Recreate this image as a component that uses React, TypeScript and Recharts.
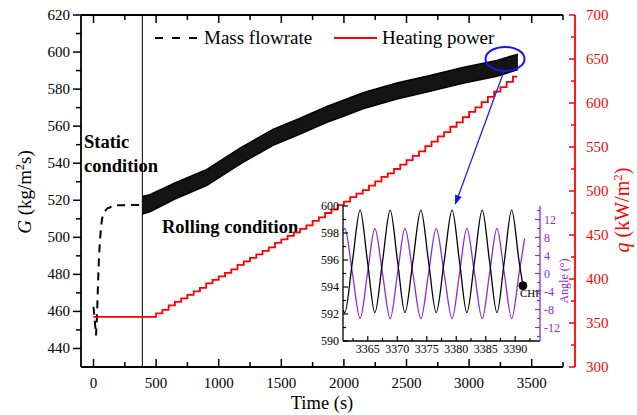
import React from 'react'
import {
  ComposedChart,
  Line,
  Area,
  XAxis,
  YAxis,
  ReferenceLine,
  ReferenceDot,
} from 'recharts'

const FONT = '"Liberation Serif", "Times New Roman", serif'
const RED = '#ff0000'
const PURPLE = '#8b2be2'
const BLUE = '#1414ff'

// static start-up part of the mass flowrate (s, kg/m2s)
const staticTime = [0, 10, 20, 28, 36, 44, 52, 60, 68, 85, 108, 170, 390]
const staticG = [462.5, 455, 447, 458, 475, 490, 499, 505, 510, 513.5, 515.5, 517.3, 517.5]

// rolling part: envelope of the oscillating mass flowrate
const rollTime = [390, 450, 650, 906, 1170, 1434, 1650, 1864, 1970, 2152, 2423, 2687, 2950, 3221, 3390]
const rollLow = [512.5, 513.8, 520.7, 528.1, 539.5, 549.7, 555.7, 562.1, 564.7, 569.4, 574.7, 578.8, 583.1, 586.9, 590.5]
const rollHigh = [522, 523, 529.3, 536.7, 548.1, 558.3, 564.3, 570.7, 573.3, 578, 583.3, 587.4, 591.7, 595.5, 598.8]

// heating power steps (s, kW/m2)
const heatTime = [
  0, 500, 550, 600, 650, 700, 750, 800, 850, 900, 950, 1000, 1050, 1100, 1150, 1200,
  1250, 1300, 1350, 1400, 1450, 1500, 1550, 1600, 1650, 1700, 1750, 1800, 1850, 1900,
  1950, 2000, 2050, 2100, 2150, 2200, 2250, 2300, 2350, 2400, 2450, 2500, 2550, 2600,
  2650, 2700, 2750, 2800, 2850, 2900, 2950, 3000, 3050, 3100, 3150, 3200, 3250, 3300,
  3350, 3385,
]
const heatQ = [
  357, 361, 365, 370, 374, 378, 382, 386, 390, 395, 399, 403, 407, 411, 416, 420,
  424, 428, 432, 436, 441, 445, 449, 453, 457, 461, 466, 470, 475, 479,
  484, 488, 493, 497, 501, 506, 511, 516, 520, 525, 530, 535, 540, 545,
  551, 556, 562, 567, 573, 578, 584, 590, 595, 601, 607, 613, 618, 624,
  630, 630,
]

const timeTicks = [0, 250, 500, 750, 1000, 1250, 1500, 1750, 2000, 2250, 2500, 2750, 3000, 3250, 3500, 3750]
const gTicks = [440, 450, 460, 470, 480, 490, 500, 510, 520, 530, 540, 550, 560, 570, 580, 590, 600, 610, 620]
const qTicks = [300, 325, 350, 375, 400, 425, 450, 475, 500, 525, 550, 575, 600, 625, 650, 675, 700]

// inset: last seconds before CHF
const insetTime = [
  3360.8, 3361.1, 3362.4, 3363.7, 3364.95, 3366.2, 3367.5, 3368.8, 3370.05, 3371.3,
  3372.65, 3374.0, 3375.3, 3376.6, 3377.95, 3379.3, 3380.55, 3381.8, 3383.1, 3384.4,
  3385.65, 3386.9, 3388.15, 3389.4, 3390.65, 3391.3,
]
const insetG = [
  592.3, 592.1, 595.9, 599.7, 595.9, 592.1, 595.9, 599.7, 595.9, 592.1,
  595.9, 599.7, 595.9, 592.1, 595.9, 599.7, 595.9, 592.1, 595.9, 599.7,
  595.9, 592.1, 595.9, 599.7, 595.9, 594.1,
]
const angleTime = [
  3360.8, 3361.1, 3362.4, 3363.7, 3364.95, 3366.2, 3367.5, 3368.8, 3370.05, 3371.3,
  3372.65, 3374.0, 3375.3, 3376.6, 3377.95, 3379.3, 3380.55, 3381.8, 3383.1, 3384.4,
  3385.65, 3386.9, 3388.15, 3389.4, 3390.65, 3391.6,
]
const angle = [
  9.5, 10, 0, -10, 0, 10, 0, -10, 0, 10,
  0, -10, 0, 10, 0, -10, 0, 10, 0, -10,
  0, 10, 0, -10, 0, 7.8,
]
const insetTimeTicks = [3362.5, 3365, 3367.5, 3370, 3372.5, 3375, 3377.5, 3380, 3382.5, 3385, 3387.5, 3390, 3392.5]
const insetGTicks = [590, 591, 592, 593, 594, 595, 596, 597, 598, 599, 600]
const angleTicks = [-14, -12, -10, -8, -6, -4, -2, 0, 2, 4, 6, 8, 10, 12, 14]

const staticData = staticTime.map((t, i) => ({ t, G: staticG[i] }))
const rollData = rollTime.map((t, i) => ({ t, band: [rollLow[i], rollHigh[i]] }))
const heatData = heatTime.map((t, i) => ({ t, q: heatQ[i] }))
const insetGData = insetTime.map((t, i) => ({ t, G: insetG[i] }))
const angleData = angleTime.map((t, i) => ({ t, a: angle[i] }))

// ---- tick renderers (ticks drawn by hand to get inward/outward + minor ticks)
const BottomTick = ({ x, y, payload }: any) => {
  const v = payload.value
  const major = v % 500 === 0
  return (
    <g>
      <line x1={x} x2={x} y1={y} y2={y - (major ? 8 : 5)} stroke="#000" strokeWidth={1.5} />
      {major && (
        <text x={x} y={y + 21} textAnchor="middle" fontSize={15} fontFamily={FONT} fill="#000">
          {v}
        </text>
      )}
    </g>
  )
}

const TopTick = ({ x, y, payload }: any) => {
  const major = payload.value % 500 === 0
  return <line x1={x} x2={x} y1={y} y2={y + (major ? 8 : 5)} stroke="#000" strokeWidth={1.5} />
}

const LeftTick = ({ x, y, payload }: any) => {
  const v = payload.value
  const major = v % 20 === 0
  return (
    <g>
      <line x1={x - (major ? 8 : 5)} x2={x} y1={y} y2={y} stroke="#000" strokeWidth={1.5} />
      {major && (
        <text x={x - 11} y={y + 5} textAnchor="end" fontSize={15} fontFamily={FONT} fill="#000">
          {v}
        </text>
      )}
    </g>
  )
}

const RedTick = ({ x, y, payload }: any) => {
  const v = payload.value
  const major = v % 50 === 0
  return (
    <g>
      <line x1={x - (major ? 6 : 4)} x2={x} y1={y} y2={y} stroke={RED} strokeWidth={1.5} />
      {major && (
        <text x={x + 11} y={y + 5} textAnchor="start" fontSize={15} fontFamily={FONT} fill={RED}>
          {v}
        </text>
      )}
    </g>
  )
}

const InsetBottomTick = ({ x, y, payload }: any) => {
  const v = payload.value
  const major = v % 5 === 0
  return (
    <g>
      <line x1={x} x2={x} y1={y} y2={y - (major ? 5 : 3)} stroke="#000" strokeWidth={1.2} />
      {major && (
        <text x={x} y={y + 12} textAnchor="middle" fontSize={12} fontFamily={FONT} fill="#000">
          {v}
        </text>
      )}
    </g>
  )
}

const InsetLeftTick = ({ x, y, payload }: any) => {
  const v = payload.value
  const major = v % 2 === 0
  return (
    <g>
      <line x1={x} x2={x + (major ? 5 : 3)} y1={y} y2={y} stroke="#000" strokeWidth={1.2} />
      {major && (
        <text x={x - 4} y={y + 4} textAnchor="end" fontSize={12} fontFamily={FONT} fill="#000">
          {v}
        </text>
      )}
    </g>
  )
}

const AngleTick = ({ x, y, payload }: any) => {
  const v = payload.value
  const major = v % 4 === 0
  return (
    <g>
      <line x1={x - (major ? 5 : 3)} x2={x} y1={y} y2={y} stroke={PURPLE} strokeWidth={1.2} />
      {major && (
        <text x={x + 4} y={y + 4} textAnchor="start" fontSize={12} fontFamily={FONT} fill={PURPLE}>
          {v}
        </text>
      )}
    </g>
  )
}

const Ellipse = ({ cx, cy }: any) => (
  <ellipse cx={cx} cy={cy} rx={19.5} ry={12} fill="none" stroke={BLUE} strokeWidth={2} />
)

const Arrow = ({ x1, y1, x2, y2 }: any) => {
  const ang = Math.atan2(y2 - y1, x2 - x1)
  const len = 10
  const w = 3.5
  const bx = x2 - len * Math.cos(ang)
  const by = y2 - len * Math.sin(ang)
  const px = -Math.sin(ang) * w
  const py = Math.cos(ang) * w
  return (
    <g>
      <line x1={x1} y1={y1} x2={bx} y2={by} stroke={BLUE} strokeWidth={1.2} />
      <polygon points={`${x2},${y2} ${bx + px},${by + py} ${bx - px},${by - py}`} fill={BLUE} />
    </g>
  )
}

export default function App() {
  return (
    <div style={{ position: 'relative', width: 637, height: 415, background: '#fff' }}>
      <style>{'body{margin:0}'}</style>
      <ComposedChart width={637} height={415} margin={{ top: 0, right: 0, bottom: 0, left: 0 }}>
        <XAxis
          dataKey="t"
          type="number"
          domain={[-100, 3750]}
          ticks={timeTicks}
          interval={0}
          height={48}
          tickSize={0}
          tickMargin={0}
          tickLine={false}
          tick={BottomTick}
          axisLine={{ stroke: '#000', strokeWidth: 1.8 }}
          allowDataOverflow
        />
        <XAxis
          xAxisId="top"
          orientation="top"
          dataKey="t"
          type="number"
          domain={[-100, 3750]}
          ticks={timeTicks}
          interval={0}
          height={15}
          tickSize={0}
          tickMargin={0}
          tickLine={false}
          tick={TopTick}
          axisLine={{ stroke: '#000', strokeWidth: 1.8 }}
          allowDataOverflow
        />
        <YAxis
          yAxisId="G"
          type="number"
          domain={[430, 620]}
          ticks={gTicks}
          interval={0}
          width={81}
          tickSize={0}
          tickMargin={0}
          tickLine={false}
          tick={LeftTick}
          axisLine={{ stroke: '#000', strokeWidth: 1.8 }}
          allowDataOverflow
        />
        <YAxis yAxisId="pad" orientation="right" width={12} domain={[0, 1]} axisLine={false} tickLine={false} tick={false} />
        <YAxis
          yAxisId="q"
          orientation="right"
          type="number"
          domain={[300, 700]}
          ticks={qTicks}
          interval={0}
          width={62}
          tickSize={0}
          tickMargin={0}
          tickLine={false}
          tick={RedTick}
          axisLine={{ stroke: RED, strokeWidth: 1.8 }}
          allowDataOverflow
        />

        <ReferenceLine yAxisId="G" x={390} stroke="#000" strokeWidth={1} />

        <Area
          yAxisId="G"
          data={rollData}
          dataKey="band"
          type="linear"
          stroke="#000"
          strokeWidth={1.5}
          fill="#000"
          fillOpacity={0.92}
          isAnimationActive={false}
          dot={false}
          activeDot={false}
        />
        <Line
          yAxisId="G"
          data={staticData}
          dataKey="G"
          type="linear"
          stroke="#000"
          strokeWidth={2}
          strokeDasharray="8 6"
          dot={false}
          activeDot={false}
          isAnimationActive={false}
        />
        <Line
          yAxisId="q"
          data={heatData}
          dataKey="q"
          type="stepAfter"
          stroke={RED}
          strokeWidth={1.8}
          dot={false}
          activeDot={false}
          isAnimationActive={false}
        />

        <ReferenceDot yAxisId="G" x={3287} y={596.3} r={1} shape={Ellipse} />
        <ReferenceLine
          yAxisId="G"
          segment={[{ x: 3279, y: 589.8 }, { x: 2887, y: 517.4 }]}
          shape={Arrow}
        />

        {/* legend */}
        <line x1={155} x2={198} y1={38} y2={38} stroke="#000" strokeWidth={2} strokeDasharray="8 9" />
        <text x={204} y={44} fontSize={19} fontFamily={FONT} fill="#000">Mass flowrate</text>
        <line x1={334} x2={377} y1={38} y2={38} stroke={RED} strokeWidth={2} />
        <text x={382} y={44} fontSize={19} fontFamily={FONT} fill="#000">Heating power</text>

        {/* annotations */}
        <text x={84} y={148} fontSize={18.5} fontWeight="bold" fontFamily={FONT} fill="#000">Static</text>
        <text x={84} y={172} fontSize={18.5} fontWeight="bold" fontFamily={FONT} fill="#000">condition</text>
        <text x={162} y={233} fontSize={18.5} fontWeight="bold" fontFamily={FONT} fill="#000">Rolling condition</text>

        {/* axis titles */}
        <text x={322} y={409} textAnchor="middle" fontSize={18.5} fontFamily={FONT} fill="#000">Time (s)</text>
        <text transform="rotate(-90 31 192)" x={31} y={192} textAnchor="middle" fontSize={19} fontFamily={FONT} fill="#000">
          <tspan fontStyle="italic">G</tspan> (kg/m<tspan dy={-7} fontSize={12}>2</tspan><tspan dy={7}>s)</tspan>
        </text>
        <text transform="rotate(-90 629 210)" x={629} y={210} textAnchor="middle" fontSize={20} fontFamily={FONT} fill={RED}>
          <tspan fontStyle="italic">q</tspan> (kW/m<tspan dy={-7} fontSize={13}>2</tspan><tspan dy={7}>)</tspan>
        </text>
      </ComposedChart>

      <div style={{ position: 'absolute', left: 313, top: 200 }}>
        <ComposedChart width={267} height={161} margin={{ top: 6, right: 0, bottom: 0, left: 0 }}>
          <XAxis
            dataKey="t"
            type="number"
            domain={[3360.8, 3394.2]}
            ticks={insetTimeTicks}
            interval={0}
            height={20}
            tickSize={0}
            tickMargin={0}
            tickLine={false}
            tick={InsetBottomTick}
            axisLine={{ stroke: '#000', strokeWidth: 1.3 }}
            allowDataOverflow
          />
          <YAxis
            yAxisId="G"
            type="number"
            domain={[590, 600]}
            ticks={insetGTicks}
            interval={0}
            width={30}
            tickSize={0}
            tickMargin={0}
            tickLine={false}
            tick={InsetLeftTick}
            axisLine={{ stroke: '#000', strokeWidth: 1.3 }}
            allowDataOverflow
          />
          <YAxis
            yAxisId="a"
            orientation="right"
            type="number"
            domain={[-15, 15]}
            ticks={angleTicks}
            interval={0}
            width={40}
            tickSize={0}
            tickMargin={0}
            tickLine={false}
            tick={AngleTick}
            axisLine={{ stroke: PURPLE, strokeWidth: 1.3 }}
            allowDataOverflow
          />
          <Line
            yAxisId="a"
            data={angleData}
            dataKey="a"
            type="monotone"
            stroke={PURPLE}
            strokeWidth={1.3}
            dot={false}
            activeDot={false}
            isAnimationActive={false}
          />
          <Line
            yAxisId="G"
            data={insetGData}
            dataKey="G"
            type="monotone"
            stroke="#000"
            strokeWidth={1.3}
            dot={false}
            activeDot={false}
            isAnimationActive={false}
          />
          <ReferenceDot yAxisId="G" x={3391.3} y={594.1} r={4} fill="#000" stroke="#000" />
          <text x={207} y={97} fontSize={11} fontFamily={FONT} fill="#000">CHF</text>
          <text transform="rotate(-90 255 81)" x={255} y={81} textAnchor="middle" fontSize={12} fontFamily={FONT} fill={PURPLE}>
            Angle (°)
          </text>
        </ComposedChart>
      </div>
    </div>
  )
}
